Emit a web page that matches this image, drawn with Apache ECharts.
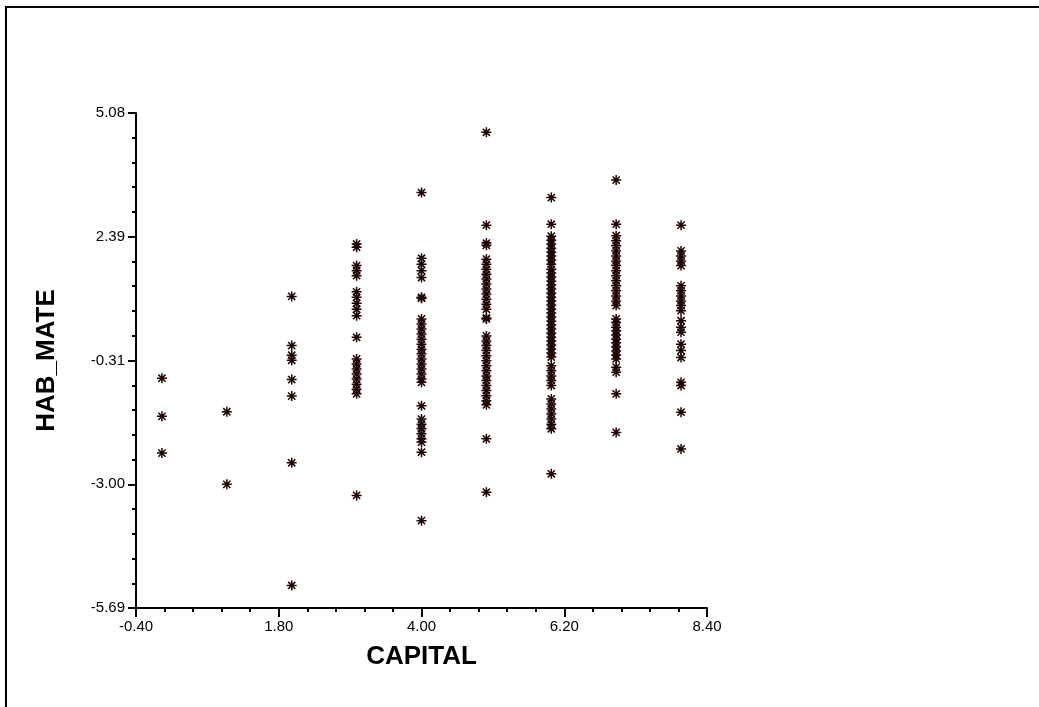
<!DOCTYPE html>
<html>
<head>
<meta charset="utf-8">
<title>HAB_MATE vs CAPITAL</title>
<script src="https://cdn.jsdelivr.net/npm/echarts@6/dist/echarts.min.js"></script>
<style>
  html, body { margin: 0; padding: 0; background: #ffffff; }
  #chart { width: 1039px; height: 707px; }
</style>
</head>
<body>
<div id="chart"></div>
<script>
// CAPITAL levels (x) and the HAB_MATE values observed at each level (y)
const capitalLevels = [0, 1, 2, 3, 4, 5, 6, 7, 8];

const habMateAt0 = [-0.69, -1.52, -2.32];
const habMateAt1 = [-1.42, -3.00];
const habMateAt2 = [1.09, 0.02, -0.19, -0.30, -0.72, -1.08, -2.53, -5.20];
const habMateAt3 = [2.23, 2.16, 1.76, 1.65, 1.54, 1.19, 1.07, 0.94, 0.81, 0.67, 0.20,
  -0.27, -0.38, -0.49, -0.60, -0.71, -0.82, -0.93, -1.03, -3.24];
const habMateAt4 = [3.35, 1.92, 1.79, 1.65, 1.50, 1.07, 1.05, 0.60, 0.49, 0.38, 0.27,
  0.16, 0.05, -0.06, -0.16, -0.27, -0.38, -0.49, -0.60, -0.71, -0.78, -1.29,
  -1.58, -1.69, -1.79, -1.90, -2.01, -2.08, -2.30, -3.79];
const habMateAt5 = [4.66, 2.64, 2.25, 2.20, 1.90, 1.79, 1.68, 1.57, 1.47, 1.36, 1.25,
  1.14, 1.03, 0.92, 0.81, 0.62, 0.60, 0.23, 0.12, 0.02, -0.09, -0.20, -0.31,
  -0.42, -0.53, -0.64, -0.74, -0.85, -0.96, -1.07, -1.18, -1.27, -2.01, -3.17];
const habMateAt6 = [3.24, 2.66, 2.40, 2.31, 2.23, 2.14, 2.05, 1.97, 1.88, 1.79, 1.68,
  1.60, 1.51, 1.42, 1.34, 1.25, 1.16, 1.07, 0.99, 0.90, 0.81, 0.73, 0.64, 0.55,
  0.47, 0.38, 0.29, 0.20, 0.12, 0.03, -0.06, -0.14, -0.23, -0.42, -0.53, -0.64,
  -0.74, -0.85, -1.14, -1.25, -1.36, -1.47, -1.58, -1.69, -1.79, -2.77];
const habMateAt7 = [3.62, 2.66, 2.41, 2.30, 2.19, 2.08, 1.97, 1.86, 1.76, 1.65, 1.54,
  1.43, 1.32, 1.21, 1.10, 0.99, 0.89, 0.60, 0.52, 0.42, 0.34, 0.25, 0.16, 0.08,
  -0.01, -0.10, -0.19, -0.27, -0.45, -0.56, -1.03, -1.87];
const habMateAt8 = [2.64, 2.08, 1.97, 1.86, 1.76, 1.32, 1.21, 1.10, 0.99, 0.89, 0.78,
  0.56, 0.42, 0.31, 0.05, -0.09, -0.24, -0.78, -0.85, -1.43, -2.23];

const habMateGroups = [habMateAt0, habMateAt1, habMateAt2, habMateAt3, habMateAt4,
  habMateAt5, habMateAt6, habMateAt7, habMateAt8];

// Axis tick labels
const xTickLabels = ['-0.40', '1.80', '4.00', '6.20', '8.40'];
const yTickLabels = ['-5.69', '-3.00', '-0.31', '2.39', '5.08'];

// Flatten groups into [x, y] pairs for the scatter series
const points = [];
habMateGroups.forEach(function (vals, i) {
  vals.forEach(function (v) { points.push([capitalLevels[i], v]); });
});

const ink = '#000000';
const markColor = '#1e0202';
const fontFamily = 'Arial, "Liberation Sans", Helvetica, sans-serif';

// eight-armed asterisk marker
const asterisk = 'path://M5 0 L5 10 M0 5 L10 5 M1.4 1.4 L8.6 8.6 M8.6 1.4 L1.4 8.6';

const xMin = -0.4, xMax = 8.4;
const yMin = -5.69, yMax = 5.08;

const chart = echarts.init(document.getElementById('chart'), null, { renderer: 'canvas' });

const tickStyle = { color: ink, width: 2 };

chart.setOption({
  backgroundColor: '#ffffff',
  animation: false,
  grid: { left: 136, top: 113, right: 332, bottom: 99, containLabel: false },
  xAxis: {
    type: 'value',
    min: xMin,
    max: xMax,
    interval: (xMax - xMin) / 4,
    name: 'CAPITAL',
    nameLocation: 'middle',
    nameGap: 36,
    nameTextStyle: { color: ink, fontSize: 26, fontWeight: 'bold', fontFamily: fontFamily,
      verticalAlign: 'top' },
    axisLine: { show: true, onZero: false, lineStyle: { color: ink, width: 2 } },
    axisTick: { show: true, inside: false, length: 9, lineStyle: tickStyle },
    minorTick: { show: true, splitNumber: 5, length: 4, lineStyle: tickStyle },
    splitLine: { show: false },
    axisLabel: {
      color: ink, fontSize: 15, fontFamily: fontFamily, margin: 11,
      formatter: function (value, index) { return xTickLabels[index]; }
    }
  },
  yAxis: {
    type: 'value',
    min: yMin,
    max: yMax,
    interval: (yMax - yMin) / 4,
    name: 'HAB_MATE',
    nameLocation: 'middle',
    nameGap: 76,
    nameRotate: 90,
    nameTextStyle: { color: ink, fontSize: 26, fontWeight: 'bold', fontFamily: fontFamily },
    axisLine: { show: true, onZero: false, lineStyle: { color: ink, width: 2 } },
    axisTick: { show: true, inside: false, length: 8, lineStyle: tickStyle },
    minorTick: { show: true, splitNumber: 5, length: 4, lineStyle: tickStyle },
    splitLine: { show: false },
    axisLabel: {
      color: ink, fontSize: 15, fontFamily: fontFamily, margin: 11,
      formatter: function (value, index) { return yTickLabels[index]; }
    }
  },
  series: [{
    type: 'scatter',
    data: points,
    symbol: asterisk,
    symbolSize: 10,
    itemStyle: { color: markColor, borderColor: markColor, borderWidth: 1.5, opacity: 1 },
    emphasis: { disabled: true }
  }],
  graphic: [
    // frame edges along the top and left of the page
    { type: 'line', shape: { x1: 6, y1: 7, x2: 1039, y2: 7 },
      style: { stroke: ink, lineWidth: 2 } },
    { type: 'line', shape: { x1: 6, y1: 6, x2: 6, y2: 707 },
      style: { stroke: ink, lineWidth: 2 } }
  ]
});
</script>
</body>
</html>
